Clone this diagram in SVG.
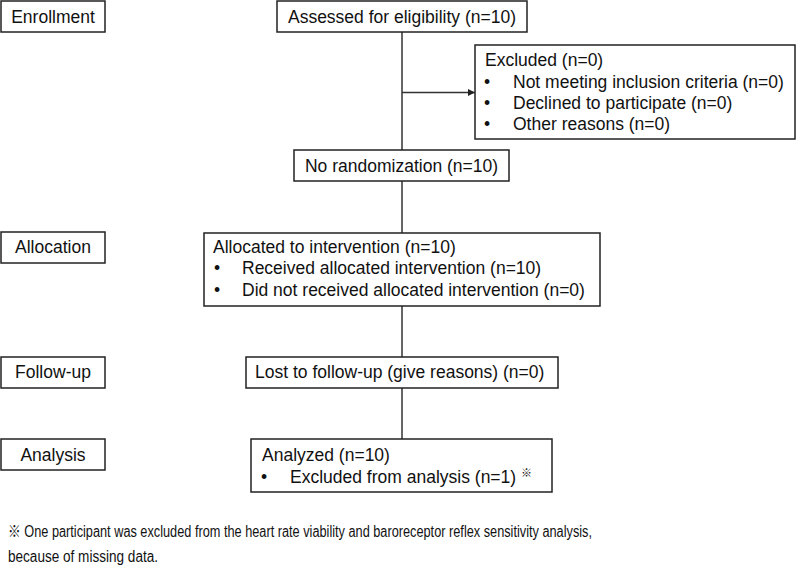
<svg xmlns="http://www.w3.org/2000/svg" width="796" height="565" viewBox="0 0 796 565">
<style>
text{font-family:"Liberation Sans","Noto Sans CJK JP",sans-serif;font-size:17.5px;fill:#111}
.box{fill:#fff;stroke:#222;stroke-width:1.5}
.c{text-anchor:middle}
.fn{font-size:16px}
.sup{font-size:11px}
.ln{stroke:#333;stroke-width:1.5;fill:none}
</style>
<defs>
<marker id="ah" viewBox="0 0 10 10" refX="10" refY="5" markerWidth="9" markerHeight="7" markerUnits="userSpaceOnUse" orient="auto">
<path d="M0,0 L10,5 L0,10 z" fill="#222"/>
</marker>
</defs>
<rect width="796" height="565" fill="#fff"/>
<g id="connectors">
<line class="ln" x1="402" y1="32" x2="402" y2="150"/>
<line class="ln" x1="402" y1="92.5" x2="475" y2="92.5" marker-end="url(#ah)"/>
<line class="ln" x1="402" y1="181" x2="402" y2="233"/>
<line class="ln" x1="402" y1="306" x2="402" y2="357"/>
<line class="ln" x1="402" y1="388" x2="402" y2="439"/>
</g>
<g id="stage-enrollment"><rect class="box" x="1" y="1" width="104" height="31"/><text class="c" x="53" y="23">Enrollment</text></g>
<g id="stage-allocation"><rect class="box" x="1" y="232" width="104" height="31"/><text class="c" x="53" y="253">Allocation</text></g>
<g id="stage-followup"><rect class="box" x="1" y="357" width="104" height="31"/><text class="c" x="53" y="378">Follow-up</text></g>
<g id="stage-analysis"><rect class="box" x="1" y="439" width="104" height="31"/><text class="c" x="53" y="461">Analysis</text></g>
<g id="assessed"><rect class="box" x="277" y="1" width="250" height="31"/><text class="c" x="402" y="23">Assessed for eligibility (n=10)</text></g>
<g id="excluded"><rect class="box" x="475" y="45" width="320" height="94"/>
<text x="485" y="66">Excluded (n=0)</text>
<text x="484" y="88">•</text><text x="513" y="88">Not meeting inclusion criteria (n=0)</text>
<text x="484" y="109">•</text><text x="513" y="109">Declined to participate (n=0)</text>
<text x="484" y="130">•</text><text x="513" y="130">Other reasons (n=0)</text>
</g>
<g id="norandom"><rect class="box" x="294" y="150" width="215" height="31"/><text class="c" x="401.5" y="172">No randomization (n=10)</text></g>
<g id="allocated"><rect class="box" x="204" y="233" width="396" height="73"/>
<text x="213" y="253">Allocated to intervention (n=10)</text>
<text x="214" y="274">•</text><text x="242" y="274">Received allocated intervention (n=10)</text>
<text x="214" y="296">•</text><text x="242" y="296">Did not received allocated intervention (n=0)</text>
</g>
<g id="lost"><rect class="box" x="246" y="357" width="312" height="31"/><text x="255" y="378">Lost to follow-up (give reasons) (n=0)</text></g>
<g id="analyzed"><rect class="box" x="251" y="439" width="301" height="53"/>
<text x="262" y="461">Analyzed (n=10)</text>
<text x="261" y="483">•</text><text x="290" y="483">Excluded from analysis (n=1) <tspan class="sup" dy="-6">※</tspan></text>
</g>
<g id="footnote">
<text class="fn" x="8" y="537" textLength="584" lengthAdjust="spacingAndGlyphs">※ One participant was excluded from the heart rate viability and baroreceptor reflex sensitivity analysis,</text>
<text class="fn" x="8" y="562" textLength="150" lengthAdjust="spacingAndGlyphs">because of missing data.</text>
</g>
</svg>
